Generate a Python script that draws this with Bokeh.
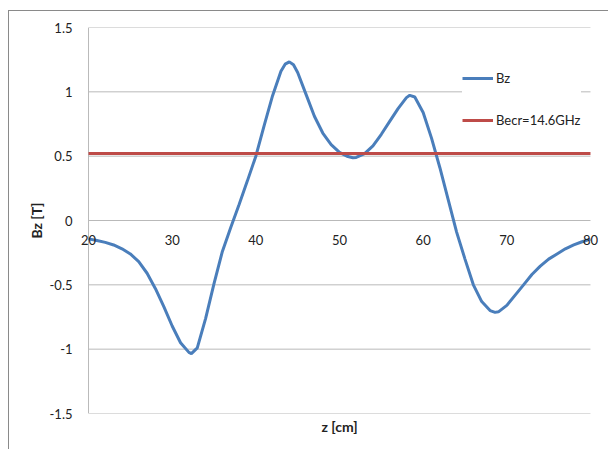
from bokeh.plotting import figure
from bokeh.models import Range1d, FixedTicker, Legend, LegendItem, Title
from bokeh.embed import file_html
from bokeh.resources import INLINE

# ---- data ----
z_cm = [20, 21, 22, 23, 24, 25, 26, 27, 28, 29, 30, 31, 32, 32.3, 33, 34, 35, 36, 37, 38,
        39, 40, 41, 42, 43, 43.5, 44, 44.5, 45, 46, 47, 48, 49, 50, 51, 51.6, 52, 53, 54, 55, 56, 57,
        58, 58.4, 59, 60, 61, 62, 63, 64, 65, 66, 67, 68, 68.6, 69, 70, 71, 72, 73, 74, 75,
        76, 77, 78, 79, 80]
bz_T = [-0.143, -0.155, -0.17, -0.19, -0.22, -0.26, -0.32, -0.41, -0.53, -0.67, -0.82, -0.95, -1.025, -1.035, -0.99, -0.76, -0.49, -0.24, -0.055, 0.125,
        0.31, 0.50, 0.74, 0.97, 1.16, 1.215, 1.233, 1.21, 1.15, 0.98, 0.81, 0.68, 0.59, 0.53, 0.497, 0.488, 0.49, 0.52, 0.58, 0.67, 0.77, 0.87,
        0.955, 0.973, 0.96, 0.84, 0.64, 0.41, 0.16, -0.09, -0.30, -0.50, -0.63, -0.70, -0.714, -0.71, -0.66, -0.58, -0.50, -0.42, -0.355, -0.30,
        -0.26, -0.22, -0.19, -0.165, -0.145]
z_ecr = [20, 80]
b_ecr = [0.52, 0.52]
x_ticks = [20, 30, 40, 50, 60, 70, 80]
y_ticks = [-1.5, -1, -0.5, 0, 0.5, 1, 1.5]
y_tick_labels = ["-1.5", "-1", "-0.5", "0", "0.5", "1", "1.5"]

FONT = "Lato"
GRID = "#b9b9b9"
TXT = "#222222"

x_min, x_max = x_ticks[0], x_ticks[-1]
y_min, y_max = y_ticks[0], y_ticks[-1]
# small extra room so the end tick labels (20, 80) are not clipped
pad = (x_max - x_min) * 8 / 500

p = figure(width=600, height=439, output_backend="svg", toolbar_location=None,
           x_range=Range1d(x_min - pad, x_max + pad), y_range=Range1d(y_min, y_max),
           min_border_left=71, min_border_right=11, min_border_top=16, min_border_bottom=37)
p.styles = {"margin-left": "8px", "margin-top": "10px",
            "border-left": "1px solid #8a8a8a", "border-top": "1px solid #8a8a8a"}
p.outline_line_color = None
p.background_fill_color = "white"
p.border_fill_color = "white"

p.xgrid.visible = False
p.ygrid.visible = False

# horizontal grid lines spanning exactly the data range, plus the left axis line
p.segment(x0=[x_min] * len(y_ticks), y0=y_ticks, x1=[x_max] * len(y_ticks), y1=y_ticks,
          line_color=GRID, line_width=1)
p.segment(x0=[x_min], y0=[y_min], x1=[x_min], y1=[y_max], line_color=GRID, line_width=1)

# y axis
p.yaxis.ticker = FixedTicker(ticks=y_ticks)
p.yaxis.major_label_overrides = {t: s for t, s in zip(y_ticks, y_tick_labels)}
p.yaxis.axis_line_color = None
p.yaxis.major_tick_line_color = None
p.yaxis.minor_tick_line_color = None
p.yaxis.major_label_text_font = FONT
p.yaxis.major_label_text_font_size = "13px"
p.yaxis.major_label_text_color = TXT
p.yaxis.major_label_standoff = 2
p.yaxis.axis_label = "Bz [T]"
p.yaxis.axis_label_text_font = FONT
p.yaxis.axis_label_text_font_style = "bold"
p.yaxis.axis_label_text_font_size = "14px"
p.yaxis.axis_label_text_color = TXT
p.yaxis.axis_label_standoff = 2

# x axis crossing at zero
p.xaxis.ticker = FixedTicker(ticks=x_ticks)
p.xaxis.fixed_location = 0
p.xaxis.axis_line_color = None
p.xaxis.major_tick_line_color = None
p.xaxis.minor_tick_line_color = None
p.xaxis.major_label_text_font = FONT
p.xaxis.major_label_text_font_size = "13px"
p.xaxis.major_label_text_color = TXT
p.xaxis.major_label_standoff = 8

p.add_layout(Title(text="z [cm]", align="center", text_font=FONT, text_font_style="bold",
                   text_font_size="14px", text_color=TXT, offset=0, standoff=4), "below")

r_bz = p.line(z_cm, bz_T, line_color="#4a7ebb", line_width=3)
r_ecr = p.line(z_ecr, b_ecr, line_color="#be4b48", line_width=3)

legend = Legend(items=[LegendItem(label="Bz", renderers=[r_bz]),
                       LegendItem(label="Becr=14.6GHz", renderers=[r_ecr])],
                location=(382, 283), orientation="vertical",
                background_fill_color="white", background_fill_alpha=1.0,
                border_line_color=None, padding=7, spacing=22,
                glyph_width=31, glyph_height=20, label_height=20, label_standoff=3,
                label_text_font=FONT, label_text_font_size="13px", label_text_color=TXT,
                margin=0)
p.add_layout(legend, "center")

open("out.html", "w").write(file_html(p, INLINE))
